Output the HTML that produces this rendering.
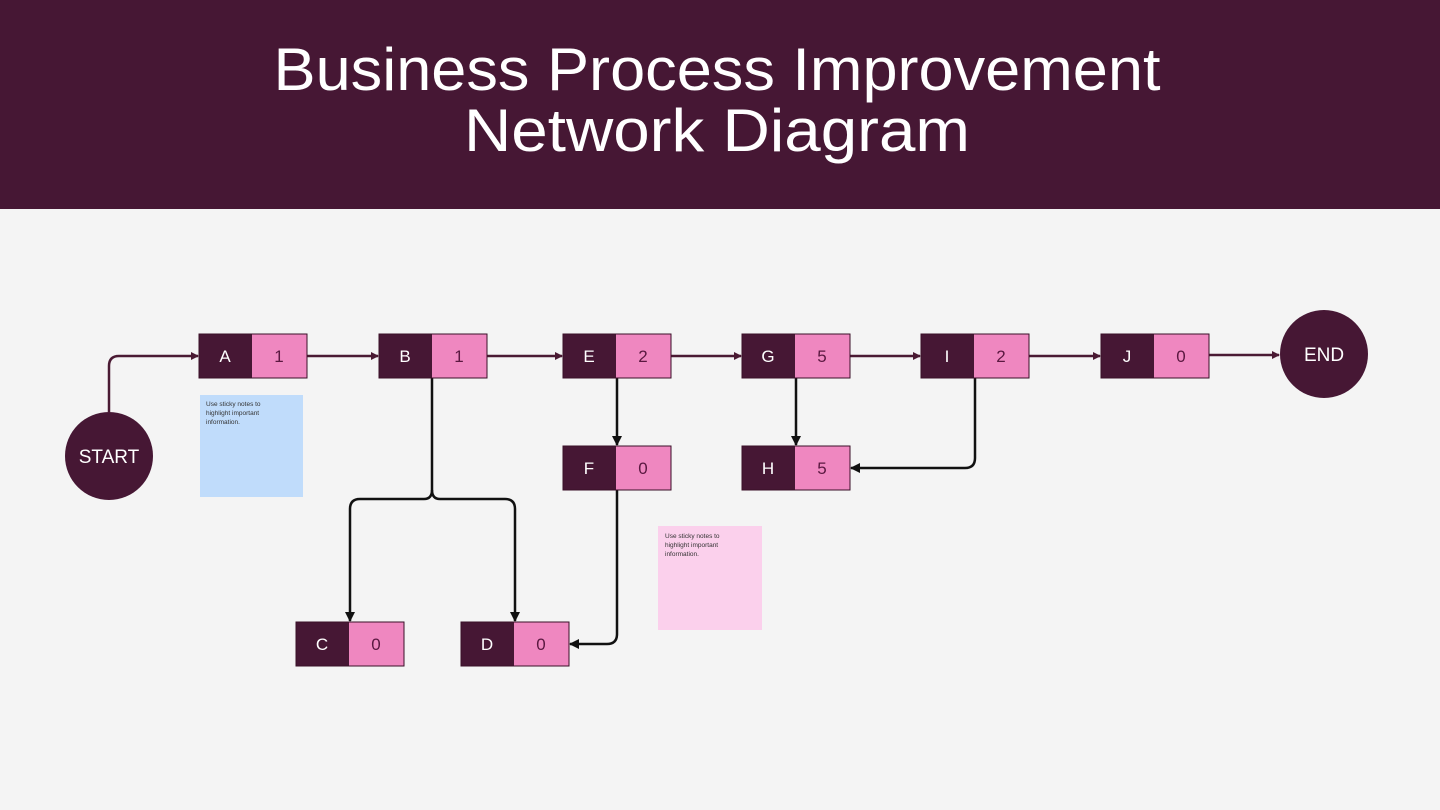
<!DOCTYPE html>
<html><head><meta charset="utf-8"><style>
html,body{margin:0;padding:0;width:1440px;height:810px;overflow:hidden;background:#f4f4f4;}
svg{display:block;}
text{font-family:"Liberation Sans",sans-serif;}
</style></head><body>
<svg width="1440" height="810" viewBox="0 0 1440 810">
<defs>
<marker id="am" markerWidth="8" markerHeight="8" refX="7" refY="4" orient="auto" markerUnits="userSpaceOnUse"><path d="M0,0 L8,4 L0,8 z" fill="#4a1a33"/></marker>
<marker id="ab" markerWidth="10" markerHeight="10" refX="9" refY="5" orient="auto" markerUnits="userSpaceOnUse"><path d="M0,0 L10,5 L0,10 z" fill="#111"/></marker>
</defs>
<rect x="0" y="0" width="1440" height="209" fill="#461734"/>
<text x="717" y="90" text-anchor="middle" font-size="60" fill="#fff" textLength="887" lengthAdjust="spacingAndGlyphs">Business Process Improvement</text>
<text x="717" y="151" text-anchor="middle" font-size="60" fill="#fff" textLength="506" lengthAdjust="spacingAndGlyphs">Network Diagram</text>

<!-- connectors -->
<g fill="none" stroke-width="2.5">
<path d="M109,412 V366 Q109,356 119,356 H198" stroke="#4a1a33" marker-end="url(#am)"/>
<path d="M307,356 H378" stroke="#4a1a33" marker-end="url(#am)"/>
<path d="M487,356 H562" stroke="#4a1a33" marker-end="url(#am)"/>
<path d="M671,356 H741" stroke="#4a1a33" marker-end="url(#am)"/>
<path d="M850,356 H920" stroke="#4a1a33" marker-end="url(#am)"/>
<path d="M1029,356 H1100" stroke="#4a1a33" marker-end="url(#am)"/>
<path d="M1209,355 H1279" stroke="#4a1a33" marker-end="url(#am)"/>
<path d="M432,378 V490 Q432,499 424,499 H360 Q350,499 350,509 V621" stroke="#111" marker-end="url(#ab)"/>
<path d="M432,490 Q432,499 440,499 H505 Q515,499 515,509 V621" stroke="#111" marker-end="url(#ab)"/>
<path d="M617,378 V445" stroke="#111" marker-end="url(#ab)"/>
<path d="M617,490 V634 Q617,644 607,644 H570" stroke="#111" marker-end="url(#ab)"/>
<path d="M796,378 V445" stroke="#111" marker-end="url(#ab)"/>
<path d="M975,378 V458 Q975,468 965,468 H851" stroke="#111" marker-end="url(#ab)"/>
</g>

<!-- circles -->
<circle cx="109" cy="456" r="44" fill="#461734"/>
<text x="109" y="463" text-anchor="middle" font-size="19" fill="#fff">START</text>
<circle cx="1324" cy="354" r="44" fill="#461734"/>
<text x="1324" y="361" text-anchor="middle" font-size="19" fill="#fff">END</text>

<!-- sticky notes -->
<rect x="200" y="395" width="103" height="102" fill="#c0dcfb"/>
<text font-size="6.5" fill="#333"><tspan x="206" y="406">Use sticky notes to</tspan><tspan x="206" y="415">highlight important</tspan><tspan x="206" y="424">information.</tspan></text>
<rect x="658" y="526" width="104" height="104" fill="#fbd0ec"/>
<text font-size="6.5" fill="#333"><tspan x="665" y="538">Use sticky notes to</tspan><tspan x="665" y="547">highlight important</tspan><tspan x="665" y="556">information.</tspan></text>

<!-- nodes -->
<g font-size="17">
<g transform="translate(199,334)"><rect width="53" height="44" fill="#461734"/><rect x="53" width="55" height="44" fill="#ef87c0"/><rect width="108" height="44" fill="none" stroke="#3a1028" stroke-width="1"/><text x="26" y="28" fill="#fff" text-anchor="middle">A</text><text x="80" y="28" fill="#5a1840" text-anchor="middle">1</text></g>
<g transform="translate(379,334)"><rect width="53" height="44" fill="#461734"/><rect x="53" width="55" height="44" fill="#ef87c0"/><rect width="108" height="44" fill="none" stroke="#3a1028" stroke-width="1"/><text x="26" y="28" fill="#fff" text-anchor="middle">B</text><text x="80" y="28" fill="#5a1840" text-anchor="middle">1</text></g>
<g transform="translate(563,334)"><rect width="53" height="44" fill="#461734"/><rect x="53" width="55" height="44" fill="#ef87c0"/><rect width="108" height="44" fill="none" stroke="#3a1028" stroke-width="1"/><text x="26" y="28" fill="#fff" text-anchor="middle">E</text><text x="80" y="28" fill="#5a1840" text-anchor="middle">2</text></g>
<g transform="translate(742,334)"><rect width="53" height="44" fill="#461734"/><rect x="53" width="55" height="44" fill="#ef87c0"/><rect width="108" height="44" fill="none" stroke="#3a1028" stroke-width="1"/><text x="26" y="28" fill="#fff" text-anchor="middle">G</text><text x="80" y="28" fill="#5a1840" text-anchor="middle">5</text></g>
<g transform="translate(921,334)"><rect width="53" height="44" fill="#461734"/><rect x="53" width="55" height="44" fill="#ef87c0"/><rect width="108" height="44" fill="none" stroke="#3a1028" stroke-width="1"/><text x="26" y="28" fill="#fff" text-anchor="middle">I</text><text x="80" y="28" fill="#5a1840" text-anchor="middle">2</text></g>
<g transform="translate(1101,334)"><rect width="53" height="44" fill="#461734"/><rect x="53" width="55" height="44" fill="#ef87c0"/><rect width="108" height="44" fill="none" stroke="#3a1028" stroke-width="1"/><text x="26" y="28" fill="#fff" text-anchor="middle">J</text><text x="80" y="28" fill="#5a1840" text-anchor="middle">0</text></g>
<g transform="translate(563,446)"><rect width="53" height="44" fill="#461734"/><rect x="53" width="55" height="44" fill="#ef87c0"/><rect width="108" height="44" fill="none" stroke="#3a1028" stroke-width="1"/><text x="26" y="28" fill="#fff" text-anchor="middle">F</text><text x="80" y="28" fill="#5a1840" text-anchor="middle">0</text></g>
<g transform="translate(742,446)"><rect width="53" height="44" fill="#461734"/><rect x="53" width="55" height="44" fill="#ef87c0"/><rect width="108" height="44" fill="none" stroke="#3a1028" stroke-width="1"/><text x="26" y="28" fill="#fff" text-anchor="middle">H</text><text x="80" y="28" fill="#5a1840" text-anchor="middle">5</text></g>
<g transform="translate(296,622)"><rect width="53" height="44" fill="#461734"/><rect x="53" width="55" height="44" fill="#ef87c0"/><rect width="108" height="44" fill="none" stroke="#3a1028" stroke-width="1"/><text x="26" y="28" fill="#fff" text-anchor="middle">C</text><text x="80" y="28" fill="#5a1840" text-anchor="middle">0</text></g>
<g transform="translate(461,622)"><rect width="53" height="44" fill="#461734"/><rect x="53" width="55" height="44" fill="#ef87c0"/><rect width="108" height="44" fill="none" stroke="#3a1028" stroke-width="1"/><text x="26" y="28" fill="#fff" text-anchor="middle">D</text><text x="80" y="28" fill="#5a1840" text-anchor="middle">0</text></g>
</g>
</svg>
</body></html>
